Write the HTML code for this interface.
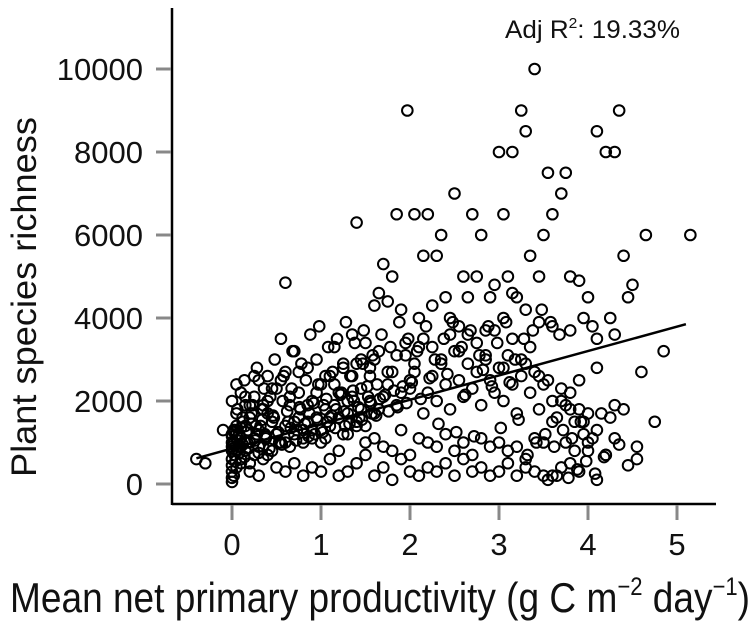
<!DOCTYPE html>
<html><head><meta charset="utf-8"><style>
html,body{margin:0;padding:0;background:#fff;}
svg text{font-family:"Liberation Sans",Arial,sans-serif;fill:#111;}
</style></head><body>
<svg id="chart" width="755" height="623" viewBox="0 0 755 623" xmlns="http://www.w3.org/2000/svg">
<g id="points"></g>
<g id="axes"></g>
<text x="505" y="38" font-size="25" textLength="175" lengthAdjust="spacingAndGlyphs">Adj R<tspan font-size="15" dy="-10">2</tspan><tspan dy="10">: 19.33%</tspan></text>
<text transform="translate(36,477) rotate(-90)" font-size="35" textLength="360" lengthAdjust="spacingAndGlyphs">Plant species richness</text>
<text x="10" y="612" font-size="42" textLength="740" lengthAdjust="spacingAndGlyphs">Mean net primary productivity (g C m<tspan font-size="25" dy="-17">−2</tspan><tspan dy="17"> day</tspan><tspan font-size="25" dy="-17">−1</tspan><tspan dy="17">)</tspan></text>
</svg>
<script>
const xTicks=[0,1,2,3,4,5];
const yTicks=[0,2000,4000,6000,8000,10000];
const fitX=[-0.4,5.1];
const fitY=[620,3850];
const xs=[1.97,3.4,3.25,4.35,3.3,3.0,3.15,4.1,4.2,4.3,1.4,1.85,2.05,2.2,2.5,2.7,0.6,5.15,4.65,4.4,3.7,3.75,3.55,3.6,4.45,4.85,4.75,4.6,4.55,-0.4,-0.3,-0.1,
2.3,2.35,2.4,2.6,2.8,2.9,3.05,3.1,3.2,3.35,3.45,3.5,3.8,3.9,4.0,4.05,4.25,4.5,1.6,1.65,1.7,1.75,1.8,1.9,2.1,2.15,2.25,2.45,2.55,2.65,2.75,2.85,2.95,3.05,3.15,3.3,3.45,3.6,3.8,3.95,4.1,4.3,
0,0,0,0,0,0,0,0,0.02,0.03,0.05,0.05,0.08,0.1,0.1,0.12,0.15,0.15,0.18,0.2,0.2,0.22,0.25,0.25,0.28,0.3,0.3,0.32,0.35,0.35,0.38,0.4,0.4,0.45,0.45,0.5,0.5,0.55,0.55,0.6,0.6,0.65,0.65,0.7,0.7,0.75,0.75,0.8,0.8,0.85,0.85,0.9,0.9,0.95,0.95,1.0,1.0,1.05,1.05,1.1,1.1,1.15,1.15,1.2,1.2,1.25,1.25,1.3,1.3,1.35,1.35,1.4,1.4,1.45,1.45,1.5,1.5,1.55,1.55,1.6,1.6,1.65,1.7,1.75,1.8,1.85,1.9,1.95,2.0,2.0,2.05,2.1,2.15,2.2,2.25,2.3,2.35,2.4,2.45,2.5,2.55,2.6,2.65,2.7,2.75,2.8,2.85,2.9,2.95,3.0,3.05,3.1,3.15,3.2,3.25,3.3,3.35,3.4,3.45,3.5,3.55,3.6,3.65,3.7,3.75,3.8,3.85,3.9,3.95,4.0,4.1,4.2,4.25,4.3,4.4,4.55,
0.05,0.1,0.15,0.2,0.25,0.3,0.35,0.4,0.5,0.6,0.7,0.8,0.9,1.0,1.1,1.2,1.3,1.4,1.5,1.6,1.7,1.8,1.9,2.0,2.1,2.2,2.3,2.4,2.5,2.6,2.7,2.8,2.9,3.0,3.1,3.2,3.3,3.4,3.5,3.6,3.7,3.8,3.9,4.0,4.1,4.2,
0.02,0.1,0.2,0.3,0.4,0.5,0.6,0.7,0.8,0.9,1.0,1.1,1.2,1.3,1.4,1.5,1.6,1.7,1.8,1.9,2.0,2.1,2.2,2.3,2.4,2.5,2.6,2.7,2.8,2.9,3.0,3.1,3.2,3.3,3.4,3.5,3.6,3.7,3.8,3.9,4.0,4.1,4.3,
0.05,0.15,0.25,0.35,0.45,0.55,0.65,0.75,0.85,0.95,1.05,1.15,1.25,1.35,1.45,1.55,1.65,1.75,1.85,1.95,2.05,2.15,2.25,2.35,2.45,2.55,2.65,2.75,2.85,2.95,3.05,3.15,3.25,3.35,3.45,3.55,3.65,3.75,3.85,3.95,4.05,4.15,
0.0,0.03,0.06,0.1,0.14,0.2,0.28,0.36,0.48,0.58,0.68,0.78,0.88,0.98,1.08,1.18,1.28,1.38,1.48,1.58,1.68,1.78,1.88,1.98,2.08,2.18,2.28,2.38,2.48,2.58,2.68,2.78,2.88,2.98,3.08,3.18,3.28,3.38,3.48,3.58,3.68,3.78,3.88,3.98,4.08,4.18,4.35,4.45,
0.0,0.01,0.02,0.04,0.06,0.08,0.1,0.12,0.14,0.16,0.18,0.22,0.26,0.3,0.34,0.38,0.42,0.46,0.52,0.56,0.62,0.66,0.72,0.76,0.82,0.86,0.92,0.96,1.02,1.06,1.12,1.16,1.22,1.26,1.32,1.36,1.42,1.46,1.52,1.56,1.62,1.66,1.72,1.76,1.82,1.86,1.92,1.96,2.02,2.12,2.22,2.32,2.42,2.52,2.62,2.72,2.82,2.92,3.02,3.12,3.22,3.32,3.42,3.52,3.62,3.72,3.82,3.92,
0.0,0.02,0.05,0.08,0.12,0.17,0.23,0.27,0.33,0.37,0.43,0.47,0.53,0.57,0.63,0.67,0.73,0.77,0.83,0.87,0.93,0.97,1.03,1.07,1.13,1.17,1.23,1.27,1.33,1.37,1.43,1.47,1.53,1.57,1.63,1.67,1.73,1.77,1.83,1.87,1.93,1.97];
const ys=[9000,10000,9000,9000,8500,8000,8000,8500,8000,8000,6300,6500,6500,6500,7000,6500,4850,6000,6000,5500,7000,7500,7500,6500,4500,3200,1500,2700,900,600,500,1300,
5500,6000,4500,5000,6000,4500,6500,5000,4500,5500,5000,6000,5000,4900,4500,3800,4000,4800,4300,4600,5300,4400,5000,4200,4000,5500,4300,4000,3800,4500,5000,3700,4800,4000,4600,4200,3900,3800,3700,4000,3500,3600,
300,600,900,1200,50,450,800,150,1000,700,400,1400,900,600,1100,1500,800,1900,1300,500,1000,1700,700,2100,1200,900,2500,1400,600,1800,1100,2000,2600,800,1500,2300,1200,1000,3500,1400,2700,900,1900,1200,3200,1600,2200,1300,1000,2800,1500,2000,1100,3000,1600,1300,2400,1800,1100,2600,1400,3300,1900,1600,2200,1200,2800,2000,1700,3600,2100,1500,2900,1800,2300,1400,3400,2000,2600,1700,3000,1800,2100,2400,2700,1900,2200,3100,2500,2300,2700,3300,1700,2200,2600,2000,2900,2400,1800,3200,2500,2100,3600,2300,2700,1900,3000,2500,2200,2800,2000,3100,2400,1700,2600,2900,2200,2700,1800,2400,2500,2000,1600,2300,1900,2200,1500,1800,1200,
1000,1300,700,1600,1100,1800,600,1200,900,1400,1600,1100,1300,900,1700,1200,1000,1500,1100,1300,1000,1600,800,1200,1400,1000,1100,900,800,1300,700,1100,1000,900,1200,800,1000,700,1100,900,1000,800,900,600,1100,1000,
200,400,500,300,800,100,700,200,500,300,200,700,400,300,500,200,400,300,600,200,300,500,700,200,400,100,600,300,200,400,300,500,200,600,300,400,200,300,500,200,400,300,200,
1500,2000,1800,2500,1700,2800,1900,2400,2100,2600,1900,2300,2500,2100,2700,1900,2200,2600,2400,2900,2600,3000,2800,3200,2700,3100,3400,2900,3500,3300,3000,3600,3200,2900,3400,3100,3700,2800,3500,3000,3300,2600,
100,200,1000,800,1500,1100,1700,2000,1300,1800,2200,2500,1900,2800,2300,3000,2600,3200,2900,3600,3800,3300,3500,3900,3400,3700,3100,3600,3300,3900,3500,3200,3800,3000,3500,3900,3300,3700,3100,3800,3400,3900,3000,3500,3700,4200,3900,3600,
150,350,550,250,650,950,450,1150,850,1250,550,1050,750,1350,950,650,1250,850,1450,1050,750,1550,1150,850,1650,1250,950,1750,1350,1050,1850,1450,1150,1950,1550,1250,2050,1650,1350,2150,1750,1450,2250,1850,1550,2350,1950,1650,2050,2150,1750,2250,1850,2350,1950,2450,2050,2550,1450,2650,1250,2150,1150,2750,2350,1350,2450,1550,
700,1000,1200,900,1300,1100,1500,1000,1300,1700,1200,1600,1000,1900,1400,1800,1200,2100,1600,1000,2000,1500,2300,1300,1800,2500,1700,1200,2400,1900,1500,2700,1800,2200,1400,2600,2000,1600,2900,2100,1700,2400];
const L=172,R=716,T=8,B=504;
const xS=v=>232+v*89;
const yS=v=>484-v*0.0415;
const NS='http://www.w3.org/2000/svg';
function mk(tag,attrs,parent){const e=document.createElementNS(NS,tag);for(const k in attrs)e.setAttribute(k,attrs[k]);parent.appendChild(e);return e;}
const pg=document.getElementById('points');
for(let i=0;i<xs.length&&i<ys.length;i++){
  const c=mk('circle',{cx:xS(xs[i]),cy:yS(ys[i]),r:5.3,fill:'none',stroke:'#000','stroke-width':2},pg);
  
  
}
const ax=document.getElementById('axes');
const fl=mk('line',{x1:xS(fitX[0]),y1:yS(fitY[0]),x2:xS(fitX[1]),y2:yS(fitY[1]),stroke:'#000','stroke-width':2.5},ax);


const ya=mk('line',{x1:L,y1:T,x2:L,y2:B+1,stroke:'#000','stroke-width':2.5},ax);


const xa=mk('line',{x1:L,y1:B,x2:R,y2:B,stroke:'#000','stroke-width':2.5},ax);


xTicks.forEach(t=>{
  const tk=mk('line',{x1:xS(t),y1:B+1,x2:xS(t),y2:B+16,stroke:'#888','stroke-width':3},ax);
  
  
  const tx=mk('text',{x:xS(t),y:555,'text-anchor':'middle','font-size':31},ax);
  tx.textContent=String(t);
  
  
});
yTicks.forEach(t=>{
  const tk=mk('line',{x1:L-16,y1:yS(t),x2:L-1,y2:yS(t),stroke:'#888','stroke-width':3},ax);
  
  
  const tx=mk('text',{x:143,y:yS(t)+11,'text-anchor':'end','font-size':31},ax);
  tx.textContent=String(t);
  
  
});
</script>
</body></html>
